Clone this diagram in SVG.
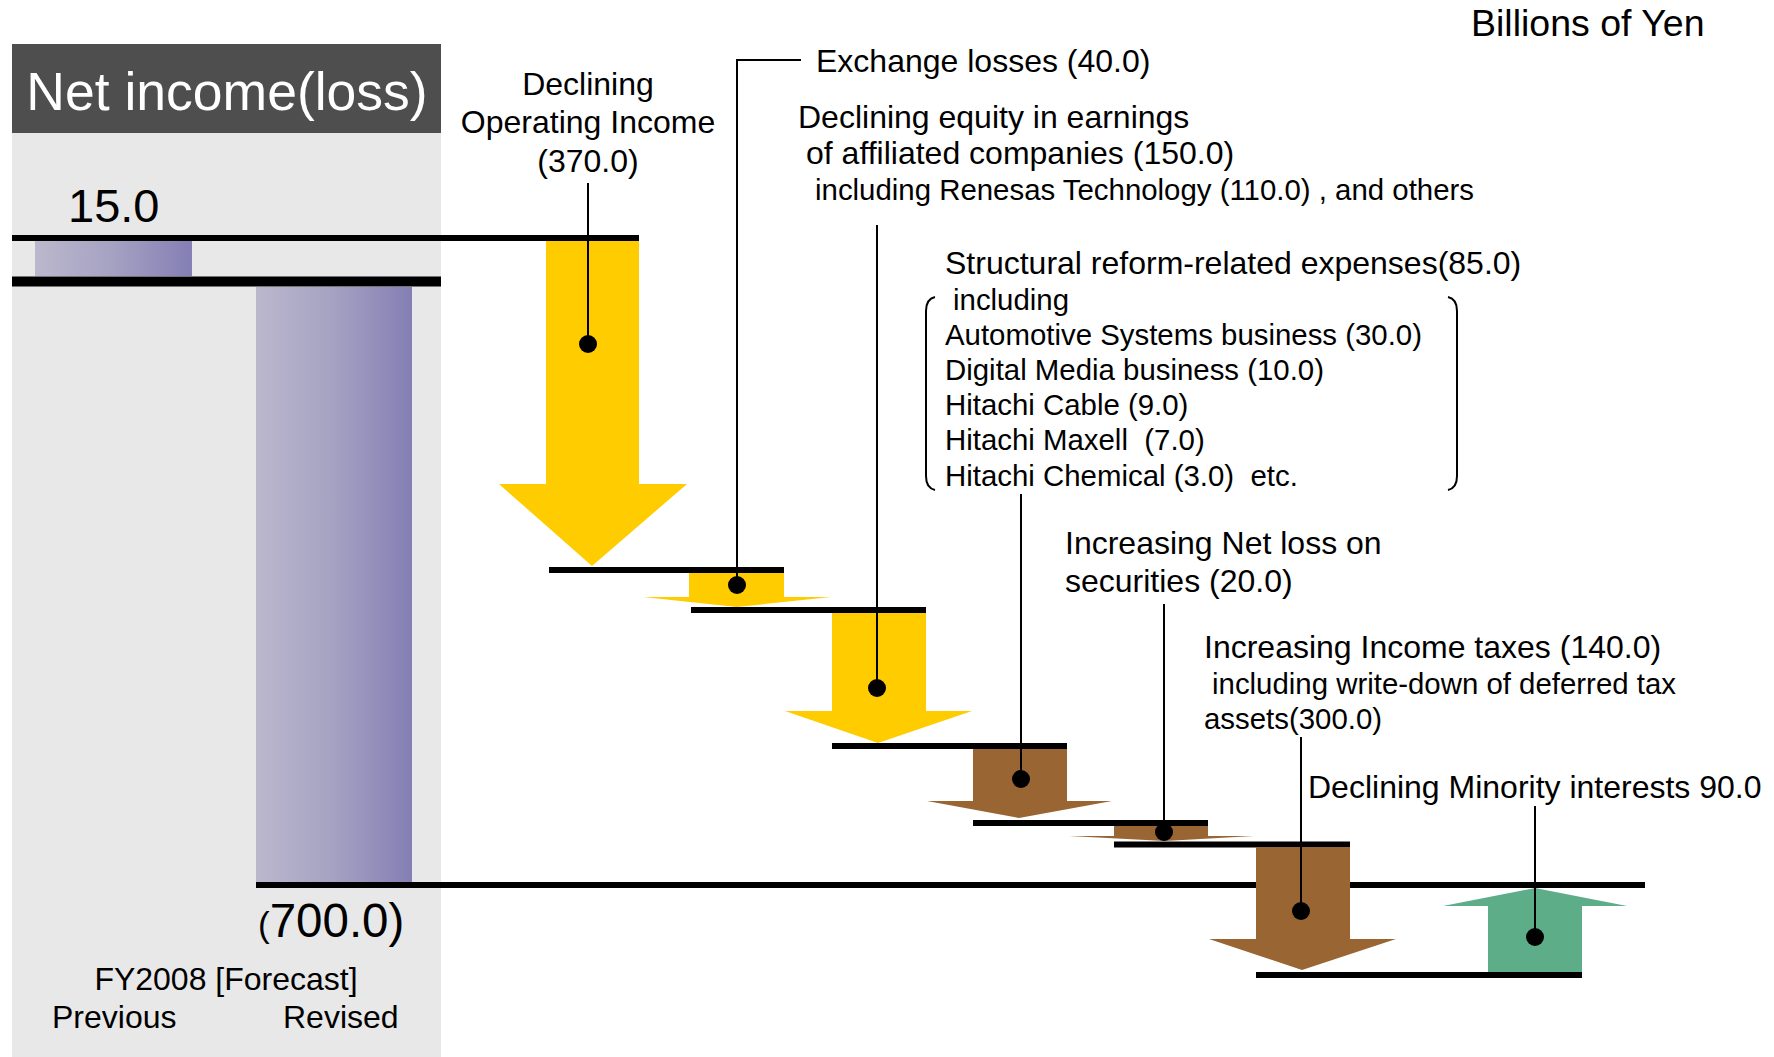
<svg xmlns="http://www.w3.org/2000/svg" width="1774" height="1057" viewBox="0 0 1774 1057">
<defs>
<linearGradient id="barGrad" x1="0" y1="0" x2="1" y2="0">
<stop offset="0" stop-color="#BBB8CD"/>
<stop offset="0.5" stop-color="#A5A1C2"/>
<stop offset="1" stop-color="#847FB4"/>
</linearGradient>
<style>
text{font-family:"Liberation Sans",Arial,sans-serif;fill:#000}
.lbl{font-size:32px}
.sub{font-size:29.4px}
.axis{font-size:32px}
.base{stroke:#000;stroke-width:6}
.lead{stroke:#000;stroke-width:2;fill:none}
.dot{fill:#000}
.yel{fill:#FFCC00}
.brn{fill:#996633}
.grn{fill:#5EAD89}
</style>
</defs>
<rect width="1774" height="1057" fill="#FFFFFF"/>

<g id="panel">
<rect x="12" y="133" width="429" height="924" fill="#E8E8E8"/>
<rect x="12" y="44" width="429" height="89" fill="#4E4E4E"/>
<text x="227" y="110" text-anchor="middle" style="font-size:53.5px;fill:#FFFFFF">Net income(loss)</text>
</g>

<g id="unit">
<text x="1471" y="36" style="font-size:37.5px">Billions of Yen</text>
</g>

<g id="bar-previous">
<rect x="35" y="241" width="157" height="35" fill="url(#barGrad)"/>
<text x="68" y="222" style="font-size:47px">15.0</text>
</g>

<g id="bar-revised">
<rect x="256" y="287" width="156" height="596" fill="url(#barGrad)"/>
<text x="258" y="937" style="font-size:47.5px"><tspan style="font-size:35px">(</tspan>700.0)</text>
</g>

<g id="axis-labels">
<text x="226" y="990" text-anchor="middle" class="axis">FY2008 [Forecast]</text>
<text x="52" y="1028" class="axis">Previous</text>
<text x="283" y="1028" class="axis">Revised</text>
</g>

<g id="level-lines">
<line class="base" x1="12" y1="238" x2="639" y2="238"/>
<line x1="12" y1="281.5" x2="441" y2="281.5" stroke="#000" stroke-width="10"/>
<line class="base" x1="256" y1="885" x2="1645" y2="885"/>
</g>

<g id="arrow-operating">
<polygon class="yel" points="546,241 639,241 639,484 687,484 592,566 499,484 546,484"/>
<line class="base" x1="549" y1="570" x2="784" y2="570"/>
</g>

<g id="arrow-exchange">
<polygon class="yel" points="689,573 784,573 784,597 831,597 737,607 643,597 689,597"/>
<line class="base" x1="691" y1="610" x2="926" y2="610"/>
</g>

<g id="arrow-equity">
<polygon class="yel" points="832,613 926,613 926,711 972,711 878,743 785,711 832,711"/>
<line class="base" x1="832" y1="746" x2="1067" y2="746"/>
</g>

<g id="arrow-structural">
<polygon class="brn" points="973,749 1067,749 1067,801 1112,801 1019,818 927,801 973,801"/>
<line class="base" x1="973" y1="823" x2="1208" y2="823"/>
</g>

<g id="arrow-securities">
<polygon class="brn" points="1114,826 1208,826 1208,836 1254,836 1165,841 1069,836 1114,836"/>
<line class="base" x1="1114" y1="844.5" x2="1350" y2="844.5"/>
</g>

<g id="arrow-taxes">
<polygon class="brn" points="1256,847 1350,847 1350,939 1396,939 1302,970 1209,939 1256,939"/>
<line class="base" x1="1256" y1="975" x2="1582" y2="975"/>
</g>

<g id="arrow-minority">
<polygon class="grn" points="1488,972 1582,972 1582,906 1627,906 1535,888 1443,906 1488,906"/>
</g>

<g id="label-operating">
<text x="588" y="95" text-anchor="middle" class="lbl">Declining</text>
<text x="588" y="133" text-anchor="middle" class="lbl">Operating Income</text>
<text x="588" y="172" text-anchor="middle" class="lbl">(370.0)</text>
</g>

<g id="label-exchange">
<text x="816" y="72" class="lbl">Exchange losses (40.0)</text>
</g>

<g id="label-equity">
<text x="798" y="128" class="lbl">Declining equity in earnings</text>
<text x="806" y="164" class="lbl">of affiliated companies (150.0)</text>
<text x="815" y="200" class="sub">including Renesas Technology (110.0) , and others</text>
</g>

<g id="label-structural">
<text x="945" y="274" class="lbl">Structural reform-related expenses(85.0)</text>
<text x="953" y="310" class="sub">including</text>
<text x="945" y="345" class="sub">Automotive Systems business (30.0)</text>
<text x="945" y="380" class="sub">Digital Media business (10.0)</text>
<text x="945" y="415" class="sub">Hitachi Cable (9.0)</text>
<text x="945" y="450" class="sub" xml:space="preserve">Hitachi Maxell  (7.0)</text>
<text x="945" y="486" class="sub" xml:space="preserve">Hitachi Chemical (3.0)  etc.</text>
<path class="lead" d="M935,297 Q926,299 926,311 L926,476 Q926,488 935,490"/>
<path class="lead" d="M1448,297 Q1457,299 1457,311 L1457,476 Q1457,488 1448,490"/>
</g>

<g id="label-securities">
<text x="1065" y="554" class="lbl">Increasing Net loss on</text>
<text x="1065" y="592" class="lbl">securities (20.0)</text>
</g>

<g id="label-taxes">
<text x="1204" y="658" class="lbl">Increasing Income taxes (140.0)</text>
<text x="1212" y="694" class="sub">including write-down of deferred tax</text>
<text x="1204" y="729" class="sub">assets(300.0)</text>
</g>

<g id="label-minority">
<text x="1308" y="798" class="lbl">Declining Minority interests 90.0</text>
</g>

<g id="connectors">
<line class="lead" x1="588" y1="183" x2="588" y2="344"/>
<polyline class="lead" points="801,60 737,60 737,585"/>
<line class="lead" x1="877" y1="225" x2="877" y2="688"/>
<line class="lead" x1="1021" y1="494" x2="1021" y2="779"/>
<line class="lead" x1="1164" y1="604" x2="1164" y2="832"/>
<line class="lead" x1="1301" y1="737" x2="1301" y2="911"/>
<line class="lead" x1="1535" y1="806" x2="1535" y2="937"/>
<circle class="dot" cx="588" cy="344" r="9"/>
<circle class="dot" cx="737" cy="585" r="9"/>
<circle class="dot" cx="877" cy="688" r="9"/>
<circle class="dot" cx="1021" cy="779" r="9"/>
<circle class="dot" cx="1164" cy="832" r="9"/>
<circle class="dot" cx="1301" cy="911" r="9"/>
<circle class="dot" cx="1535" cy="937" r="9"/>
</g>
</svg>
